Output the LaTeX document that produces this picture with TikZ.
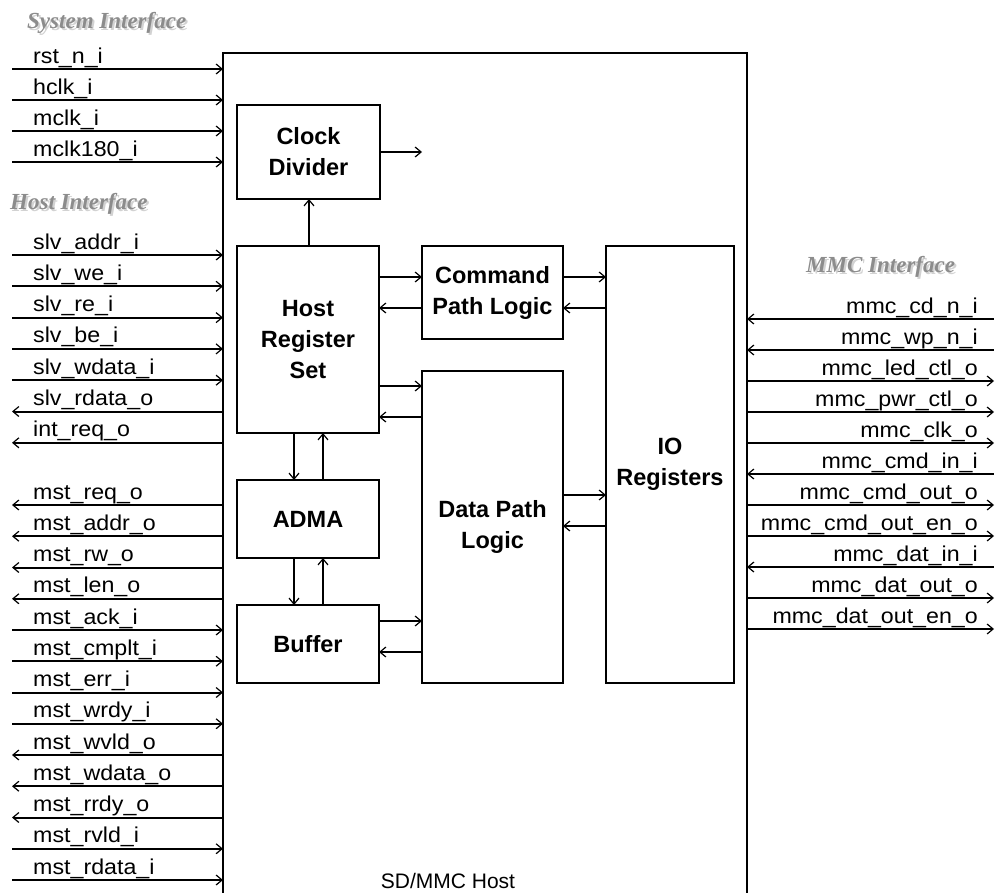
\documentclass[tikz,border=0pt]{standalone}
\usepackage{fontspec}
\setmainfont{Liberation Sans}
\newfontfamily\sigfont{Liberation Sans}[FakeStretch=1.08]
\newfontfamily\ifacefont{Liberation Serif}
\usetikzlibrary{arrows.meta,positioning,calc}
\definecolor{ifacegray}{HTML}{8C8C8C}
\definecolor{ifaceshade}{HTML}{D2D2D2}
\newcommand{\shadedtitle}[1]{\makebox[0pt][l]{\hspace{2pt}\raisebox{-2pt}{\color{ifaceshade}#1}}#1}

\begin{document}
\begin{tikzpicture}[
  x=1pt, y=-1pt,
  blk/.style={draw, line width=1.6pt, inner sep=0pt, outer sep=0pt, align=center,
    font=\fontsize{23.5}{31}\selectfont\bfseries},
  sig/.style={inner sep=0pt, font=\sigfont\fontsize{21.5}{26}\selectfont},
  iface/.style={inner sep=0pt, text=ifacegray, font=\ifacefont\fontsize{23}{26}\selectfont\bfseries\itshape},
  ltr/.style={-{Straight Barb[length=6pt,width=10pt,line width=1.2pt]}, line width=2pt},
  rtl/.style={{Straight Barb[length=6pt,width=10pt,line width=1.2pt]}-, line width=2pt}
]
  \clip (0,0) rectangle (995,892);

  % Host block
  \node[blk, minimum width=524pt, minimum height=847pt] (host) at (485,476.5) {};
  \node[inner sep=0pt, font=\fontsize{21}{24}\selectfont, anchor=base] (hostname) at (448,888) {SD/MMC Host};

  % Inner blocks
  \node[blk, minimum width=143pt, minimum height=94pt] (clkdiv) at (308.5,152) {Clock\\Divider};
  \node[blk, minimum width=142pt, minimum height=187pt] (hrs) at (308,339.5) {Host\\Register\\Set};
  \node[blk, minimum width=142pt, minimum height=78pt] (adma) at (308,519) {ADMA};
  \node[blk, minimum width=142pt, minimum height=78pt] (buffer) at (308,644) {Buffer};
  \node[blk, minimum width=141pt, minimum height=93pt] (cmd) at (492.5,292.5) {Command\\Path Logic};
  \node[blk, minimum width=141pt, minimum height=312pt] (dpl) at (492.5,527) {Data Path\\Logic};
  \node[blk, minimum width=128pt, minimum height=437pt] (io) at (670,464.5) {IO\\Registers};

  % Inner connections
  \coordinate (clkout) at (422,152);
  \draw[ltr] (clkdiv.east |- clkout) -- (clkout);
  \draw[rtl] (clkdiv.south -| 309,0) -- (hrs.north -| 309,0);
  \draw[ltr] (hrs.east |- 0,277) -- (cmd.west |- 0,277);
  \draw[rtl] (hrs.east |- 0,308) -- (cmd.west |- 0,308);
  \draw[ltr] (hrs.east |- 0,386) -- (dpl.west |- 0,386);
  \draw[rtl] (hrs.east |- 0,417) -- (dpl.west |- 0,417);
  \draw[ltr] (cmd.east |- 0,277) -- (io.west |- 0,277);
  \draw[rtl] (cmd.east |- 0,308) -- (io.west |- 0,308);
  \draw[ltr] (dpl.east |- 0,495) -- (io.west |- 0,495);
  \draw[rtl] (dpl.east |- 0,526) -- (io.west |- 0,526);
  \draw[ltr] (buffer.east |- 0,621) -- (dpl.west |- 0,621);
  \draw[rtl] (buffer.east |- 0,652) -- (dpl.west |- 0,652);
  \draw[ltr] (hrs.south -| 294,0) -- (adma.north -| 294,0);
  \draw[rtl] (hrs.south -| 323,0) -- (adma.north -| 323,0);
  \draw[ltr] (adma.south -| 294,0) -- (buffer.north -| 294,0);
  \draw[rtl] (adma.south -| 323,0) -- (buffer.north -| 323,0);

  % Interface titles
  \node[iface, anchor=base west] (systitle) at (27,28) {\shadedtitle{System Interface}};
  \node[iface, anchor=base west] (hsttitle) at (10,209) {\shadedtitle{Host Interface}};
  \node[iface, anchor=base west] (mmctitle) at (806,272) {\shadedtitle{MMC Interface}};

  % System interface
  \foreach \s/\d [count=\i from 0] in {rst\_n\_i/ltr, hclk\_i/ltr, mclk\_i/ltr, mclk180\_i/ltr} {
    \coordinate (sys\i) at (12, 69+31*\i);
    \node[sig, anchor=base west] (sysl\i) at (33, 63+31*\i) {\s};
    \draw[\d] (sys\i) -- (host.west |- sys\i);
  }
  % Host interface (slave)
  \foreach \s/\d [count=\i from 0] in {slv\_addr\_i/ltr, slv\_we\_i/ltr, slv\_re\_i/ltr,
      slv\_be\_i/ltr, slv\_wdata\_i/ltr, slv\_rdata\_o/rtl, int\_req\_o/rtl} {
    \coordinate (slv\i) at (12, 255+31.3*\i);
    \node[sig, anchor=base west] (slvl\i) at (33, 249+31.3*\i) {\s};
    \draw[\d] (slv\i) -- (host.west |- slv\i);
  }
  % Host interface (master)
  \foreach \s/\d [count=\i from 0] in {mst\_req\_o/rtl, mst\_addr\_o/rtl, mst\_rw\_o/rtl,
      mst\_len\_o/rtl, mst\_ack\_i/ltr, mst\_cmplt\_i/ltr, mst\_err\_i/ltr, mst\_wrdy\_i/ltr,
      mst\_wvld\_o/rtl, mst\_wdata\_o/rtl, mst\_rrdy\_o/rtl, mst\_rvld\_i/ltr, mst\_rdata\_i/ltr} {
    \coordinate (mst\i) at (12, 505+31.25*\i);
    \node[sig, anchor=base west] (mstl\i) at (33, 499+31.25*\i) {\s};
    \draw[\d] (mst\i) -- (host.west |- mst\i);
  }
  % MMC interface
  \foreach \s/\d [count=\i from 0] in {mmc\_cd\_n\_i/rtl, mmc\_wp\_n\_i/rtl, mmc\_led\_ctl\_o/ltr,
      mmc\_pwr\_ctl\_o/ltr, mmc\_clk\_o/ltr, mmc\_cmd\_in\_i/rtl, mmc\_cmd\_out\_o/ltr,
      mmc\_cmd\_out\_en\_o/ltr, mmc\_dat\_in\_i/rtl, mmc\_dat\_out\_o/ltr, mmc\_dat\_out\_en\_o/ltr} {
    \coordinate (mmc\i) at (994, 319+31*\i);
    \node[sig, anchor=base east] (mmcl\i) at (978, 313+31*\i) {\s};
    \draw[\d] (host.east |- mmc\i) -- (mmc\i);
  }
\end{tikzpicture}
\end{document}
